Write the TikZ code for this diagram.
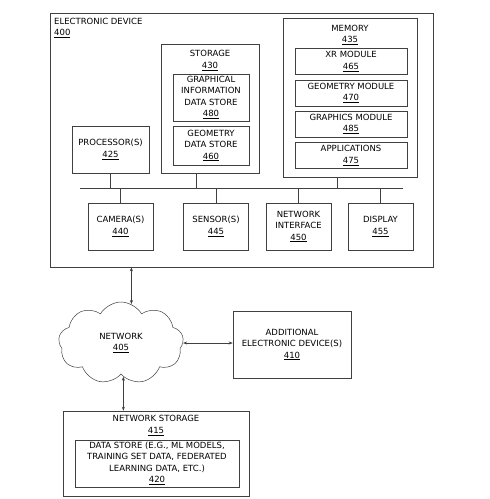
\documentclass[tikz,border=0pt]{standalone}
\usepackage{fontspec}
\setmainfont{DejaVu Sans}
\usetikzlibrary{shapes.symbols,arrows.meta}
\tikzset{
  blk/.style={draw=black!75, line width=0.5pt, align=center, inner sep=1pt},
  lbl/.style={align=center, inner sep=0pt},
  link/.style={draw=black!75, line width=0.5pt},
  dlink/.style={link, {Stealth[length=4pt,width=3pt]}-{Stealth[length=4pt,width=3pt]}}
}
\begin{document}
\begin{tikzpicture}[x=1pt, y=-1pt, every node/.append style={font=\fontsize{8.5}{11.5}\selectfont}]
  \useasboundingbox (0,0) rectangle (490,499);
  % electronic device
  \node[blk, minimum width=383pt, minimum height=254pt] (dev) at (241.5,140) {};
  \node[lbl, anchor=north west, align=left] (devlbl) at (54,17.5) {ELECTRONIC DEVICE\\\underline{400}};
  % storage
  \node[blk, minimum width=98pt, minimum height=129pt] (stor) at (210,108.5) {};
  \node[lbl] (storlbl) at (210,60.5) {STORAGE\\\underline{430}};
  \node[blk, minimum width=76pt, minimum height=47pt] (gids) at (211,97.5) {GRAPHICAL\\INFORMATION\\DATA STORE\\\underline{480}};
  \node[blk, minimum width=76pt, minimum height=39pt] (gds) at (211,145.5) {GEOMETRY\\DATA STORE\\\underline{460}};
  % processor
  \node[blk, minimum width=77pt, minimum height=47pt] (proc) at (110.5,149.5) {PROCESSOR(S)\\\underline{425}};
  % memory
  \node[blk, minimum width=134pt, minimum height=159pt] (mem) at (350,97.5) {};
  \node[lbl] (memlbl) at (350,35) {MEMORY\\\underline{435}};
  \foreach \n/\y/\t/\num in {xr/61.5/XR MODULE/465, geom/93/GEOMETRY MODULE/470,
                             gfx/124/GRAPHICS MODULE/485, apps/155.5/APPLICATIONS/475} {
    \node[blk, minimum width=112pt, minimum height=26pt] (\n) at (351,\y) {\t\\\underline{\num}};
  }
  % bus
  \coordinate (busL) at (80,188);
  \coordinate (busR) at (403,188);
  \draw[link] (busL) -- (busR);
  \draw[link] (proc.south) -- (proc.south |- busL);
  \draw[link] ([xshift=-14pt]stor.south) -- ([xshift=-14pt]stor.south |- busL);
  \draw[link] ([xshift=-13pt]mem.south) -- ([xshift=-13pt]mem.south |- busL);
  \foreach \n/\x/\t/\num in {cam/120.5/CAMERA(S)/440, sens/216/SENSOR(S)/445,
                             nif/298.5/{NETWORK\\INTERFACE}/450, disp/380.5/DISPLAY/455} {
    \node[blk, minimum width=65pt, minimum height=47pt] (\n) at (\x,226.5) {\t\\\underline{\num}};
    \draw[link] (\n.north) -- (\n.north |- busL);
  }
  % network
  \node[draw=black!75, line width=0.5pt, cloud, cloud puffs=9, cloud puff arc=120, aspect=1.5,
        minimum width=125pt, minimum height=82pt, align=center, inner sep=0pt] (net) at (121,343) {NETWORK\\\underline{405}};
  \node[blk, minimum width=118pt, minimum height=67pt] (addl) at (292,344.5) {ADDITIONAL\\ELECTRONIC DEVICE(S)\\\underline{410}};
  \node[blk, minimum width=186pt, minimum height=85pt] (nst) at (156,453.5) {};
  \node[lbl] (nstlbl) at (156,425.5) {NETWORK STORAGE\\\underline{415}};
  \node[blk, minimum width=164pt, minimum height=47pt] (dstore) at (157,463.5) {DATA STORE (E.G., ML MODELS,\\TRAINING SET DATA, FEDERATED\\LEARNING DATA, ETC.)\\\underline{420}};
  % connections
  \draw[dlink] (dev.south -| net.75) -- (net.75);
  \draw[dlink] (net.east) -- (net.east -| addl.west);
  \draw[dlink] (net.-86) -- (net.-86 |- nst.north);
\end{tikzpicture}
\end{document}
